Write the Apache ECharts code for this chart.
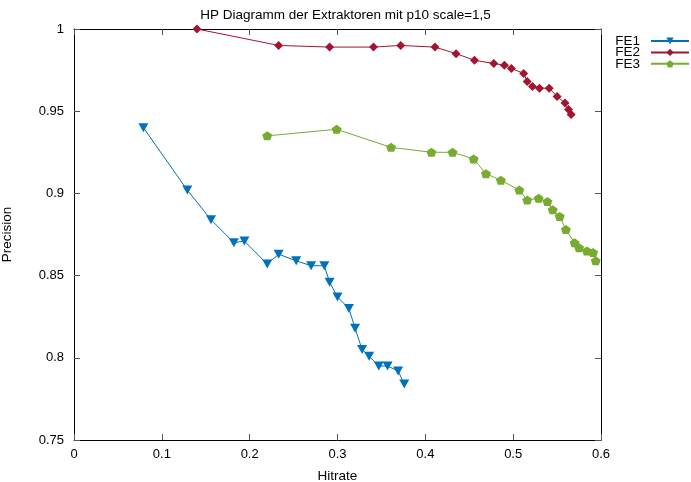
<!DOCTYPE html>
<html>
<head>
<meta charset="utf-8">
<script src="https://cdn.jsdelivr.net/npm/echarts@6/dist/echarts.min.js"></script>
<style>
  html, body { margin: 0; padding: 0; background: #fff; }
  #chart { width: 691px; height: 482px; }
</style>
</head>
<body>
<div id="chart"></div>
<script>
// Hitrate / precision pairs per extractor
const fe1Hitrate = [0.079, 0.129, 0.156, 0.182, 0.194, 0.220, 0.233, 0.253, 0.270, 0.285, 0.291, 0.300, 0.313, 0.320, 0.328, 0.336, 0.347, 0.357, 0.369, 0.376];
const fe1Precision = [0.940, 0.902, 0.884, 0.870, 0.871, 0.857, 0.863, 0.859, 0.856, 0.856, 0.846, 0.837, 0.830, 0.818, 0.805, 0.801, 0.795, 0.795, 0.792, 0.784];

const fe2Hitrate = [0.140, 0.233, 0.291, 0.341, 0.372, 0.411, 0.435, 0.456, 0.478, 0.490, 0.498, 0.512, 0.516, 0.522, 0.530, 0.541, 0.550, 0.559, 0.563, 0.566];
const fe2Precision = [1.000, 0.990, 0.989, 0.989, 0.990, 0.989, 0.985, 0.981, 0.979, 0.978, 0.976, 0.973, 0.968, 0.965, 0.964, 0.964, 0.959, 0.955, 0.951, 0.948];

const fe3Hitrate = [0.220, 0.299, 0.361, 0.407, 0.431, 0.455, 0.469, 0.486, 0.507, 0.516, 0.529, 0.539, 0.545, 0.553, 0.560, 0.570, 0.575, 0.584, 0.591, 0.594];
const fe3Precision = [0.935, 0.939, 0.928, 0.925, 0.925, 0.921, 0.912, 0.908, 0.902, 0.896, 0.897, 0.895, 0.890, 0.886, 0.878, 0.870, 0.867, 0.865, 0.864, 0.859];

const seriesNames = ['FE1', 'FE2', 'FE3'];
const xTicks = { min: 0, max: 0.6, interval: 0.1 };
const yTicks = { min: 0.75, max: 1, interval: 0.05 };

const FONT = '"Liberation Sans", Arial, sans-serif';
const colors = ['#0072BD', '#A2142F', '#77AC30'];
const symbols = [
  'path://M0,0L10,0L5,8.7Z',
  'diamond',
  'path://M50,0L97.6,34.5L79.4,90.5L20.6,90.5L2.4,34.5Z'
];
const sizes = [[10, 9], 9, [10, 9]];

function pairs(xs, ys) { return xs.map((x, i) => [x, ys[i]]); }
const dataSets = [
  pairs(fe1Hitrate, fe1Precision),
  pairs(fe2Hitrate, fe2Precision),
  pairs(fe3Hitrate, fe3Precision)
];

const tickStyle = { show: true, inside: true, length: 6, lineStyle: { color: '#555', width: 1 } };
const lineStyleAxis = { show: true, onZero: false, lineStyle: { color: '#000', width: 1 } };

const chart = echarts.init(document.getElementById('chart'), null, { renderer: 'canvas' });
chart.setOption({
  animation: false,
  backgroundColor: '#fff',
  textStyle: { fontFamily: FONT },
  title: {
    text: 'HP Diagramm der Extraktoren mit p10 scale=1,5',
    left: 'center',
    top: 3,
    textStyle: { fontFamily: FONT, fontSize: 13.5, fontWeight: 'normal', color: '#000' }
  },
  legend: {
    orient: 'vertical',
    right: 1,
    top: 34,
    padding: 0,
    align: 'right',
    itemWidth: 38,
    itemHeight: 9,
    itemGap: -2.6,
    data: seriesNames,
    textStyle: { fontFamily: FONT, fontSize: 13.5, lineHeight: 9, color: '#000', padding: [0, 6, 0, 0] }
  },
  grid: { left: 74, right: 90, top: 29, bottom: 42, containLabel: false, outerBoundsMode: 'none' },
  xAxis: [
    {
      type: 'value', position: 'bottom',
      min: xTicks.min, max: xTicks.max, interval: xTicks.interval,
      name: 'Hitrate', nameLocation: 'middle', nameGap: 29,
      nameTextStyle: { fontFamily: FONT, fontSize: 13.5, color: '#000' },
      axisLine: lineStyleAxis, axisTick: tickStyle,
      axisLabel: { fontFamily: FONT, fontSize: 13, color: '#000', margin: 8,
        formatter: v => String(+v.toFixed(2)) },
      splitLine: { show: false }
    },
    {
      type: 'value', position: 'top',
      min: xTicks.min, max: xTicks.max, interval: xTicks.interval,
      axisLine: lineStyleAxis, axisTick: tickStyle,
      axisLabel: { show: false }, splitLine: { show: false }
    }
  ],
  yAxis: [
    {
      type: 'value', position: 'left',
      min: yTicks.min, max: yTicks.max, interval: yTicks.interval,
      name: 'Precision', nameLocation: 'middle', nameGap: 60, nameRotate: 90,
      nameTextStyle: { fontFamily: FONT, fontSize: 13.5, color: '#000' },
      axisLine: lineStyleAxis, axisTick: tickStyle,
      axisLabel: { fontFamily: FONT, fontSize: 13, color: '#000', margin: 10,
        formatter: v => String(+v.toFixed(2)) },
      splitLine: { show: false }
    },
    {
      type: 'value', position: 'right',
      min: yTicks.min, max: yTicks.max, interval: yTicks.interval,
      axisLine: lineStyleAxis, axisTick: tickStyle,
      axisLabel: { show: false }, splitLine: { show: false }
    }
  ],
  series: seriesNames.map((name, i) => ({
    name: name,
    type: 'line',
    xAxisIndex: 0,
    yAxisIndex: 0,
    data: dataSets[i],
    symbol: symbols[i],
    symbolSize: sizes[i],
    showAllSymbol: true,
    lineStyle: { color: colors[i], width: 1 },
    itemStyle: { color: colors[i], borderWidth: 0 },
    emphasis: { disabled: true }
  }))
});
</script>
</body>
</html>
